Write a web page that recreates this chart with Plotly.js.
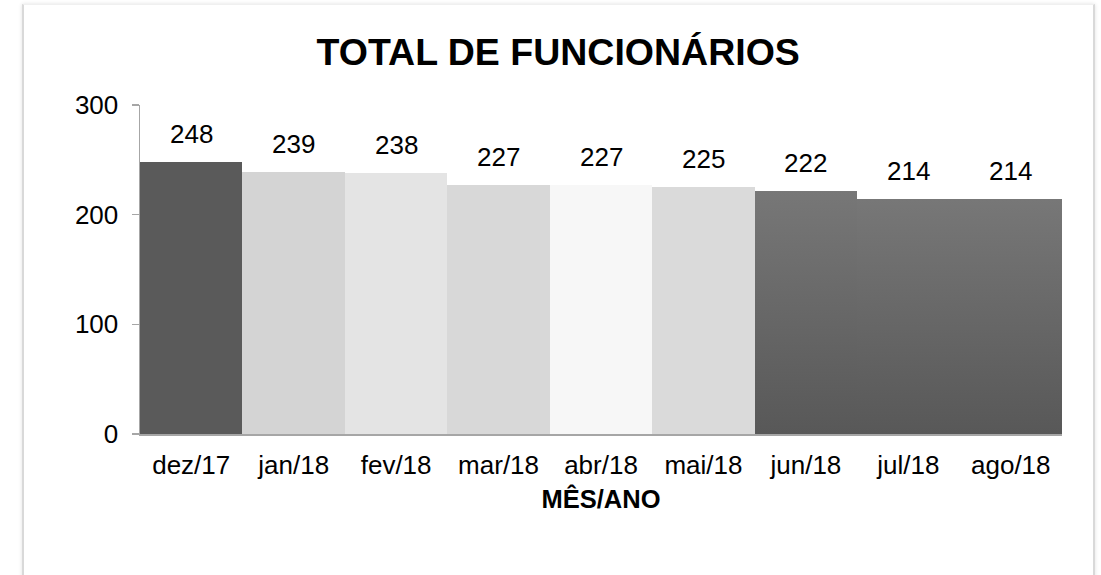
<!DOCTYPE html>
<html><head><meta charset="utf-8">
<script src="https://cdn.plot.ly/plotly-3.0.1.min.js"></script>
<style>
html,body{margin:0;padding:0;background:#fff;}
#frame{position:absolute;left:22px;top:4px;width:1069px;height:600px;border-left:2px solid #d9d9d9;border-right:2px solid #d9d9d9;border-top:1px solid #f0f0f0;box-shadow:0 0 4px rgba(0,0,0,0.12);}
#chart{position:absolute;left:0;top:0;width:1101px;height:575px;}
</style></head>
<body>
<div id="frame"></div>
<div id="chart"></div>
<script>
const categories = ["dez/17","jan/18","fev/18","mar/18","abr/18","mai/18","jun/18","jul/18","ago/18"];
const values = [248,239,238,227,227,225,222,214,214];
const barColors = ["#5a5a5a","#d4d4d4","#e4e4e4","#d8d8d8","#f7f7f7","#dadada","#686868","#686868","#686868"];
const gradientBars = [false,false,false,false,false,false,true,true,true];
const yTicks = [0,100,200,300];
const titleText = "TOTAL DE FUNCIONÁRIOS";
const xTitle = "MÊS/ANO";

const font = "Liberation Sans, Arial, sans-serif";
const trace = {
  type: "bar", x: categories, y: values,
  marker: {color: barColors, line: {width: 0}},
  hoverinfo: "none"
};
const annotations = categories.map((c, i) => ({
  x: c, y: values[i], xref: "x", yref: "y", text: String(values[i]),
  showarrow: false, yanchor: "bottom", yshift: 11,
  font: {family: font, size: 26, color: "#000"}
}));
const layout = {
  width: 1101, height: 575,
  margin: {l: 140, r: 39, t: 105, b: 141},
  paper_bgcolor: "rgba(0,0,0,0)", plot_bgcolor: "rgba(0,0,0,0)",
  bargap: 0,
  showlegend: false,
  title: {text: "<b>" + titleText + "</b>", x: 0.507, xanchor: "center", y: 0.91, yanchor: "middle",
          font: {family: font, size: 37.5, color: "#000"}},
  xaxis: {type: "category", showline: true, linecolor: "#a6a6a6", linewidth: 2, ticks: "",
          tickfont: {family: font, size: 26, color: "#000"}, ticklabelstandoff: 7,
          title: {text: "<b>" + xTitle + "</b>", font: {family: font, size: 25.5, color: "#000"}, standoff: 11},
          showgrid: false, zeroline: false, fixedrange: true},
  yaxis: {range: [0, 300], tickvals: yTicks, showline: true, linecolor: "#a6a6a6", linewidth: 1.5,
          ticks: "outside", ticklen: 7, tickcolor: "#a6a6a6", tickwidth: 1.5,
          tickfont: {family: font, size: 26, color: "#000"}, ticklabelstandoff: 8,
          showgrid: false, zeroline: false, fixedrange: true},
  annotations: annotations
};
Plotly.newPlot("chart", [trace], layout, {displayModeBar: false, staticPlot: true}).then(gd => {
  const svg = gd.querySelector("svg.main-svg");
  const ns = "http://www.w3.org/2000/svg";
  let defs = svg.querySelector("defs");
  const lg = document.createElementNS(ns, "linearGradient");
  lg.setAttribute("id", "barGrad");
  lg.setAttribute("x1", "0"); lg.setAttribute("y1", "0");
  lg.setAttribute("x2", "0"); lg.setAttribute("y2", "1");
  [["0", "#777777"], ["1", "#585858"]].forEach(([o, c]) => {
    const s = document.createElementNS(ns, "stop");
    s.setAttribute("offset", o); s.setAttribute("stop-color", c);
    lg.appendChild(s);
  });
  defs.appendChild(lg);
  const paths = gd.querySelectorAll(".barlayer .point path");
  paths.forEach((p, i) => {
    if (gradientBars[i]) p.style.fill = "url(#barGrad)";
  });
});
</script>
</body></html>
